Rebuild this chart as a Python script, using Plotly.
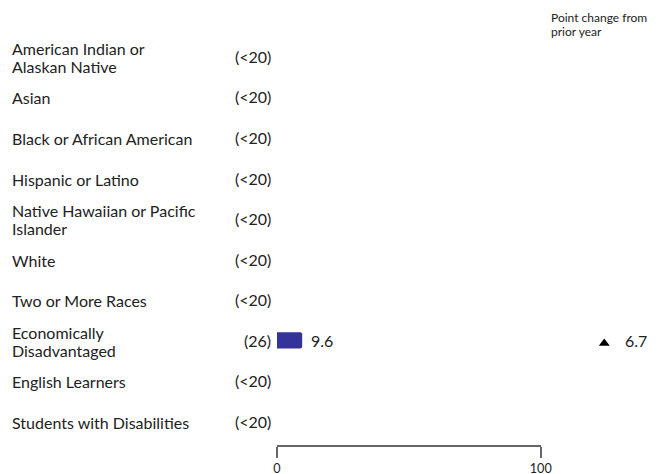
import plotly.graph_objects as go

groups = ["American Indian or<br>Alaskan Native", "Asian", "Black or African American",
          "Hispanic or Latino", "Native Hawaiian or Pacific<br>Islander", "White",
          "Two or More Races", "Economically<br>Disadvantaged", "English Learners",
          "Students with Disabilities"]
counts = ["(<20)", "(<20)", "(<20)", "(<20)", "(<20)", "(<20)", "(<20)", "(26)", "(<20)", "(<20)"]
values = [None, None, None, None, None, None, None, 9.6, None, None]
changes = [None, None, None, None, None, None, None, 6.7, None, None]
header_lines = ["Point change from", "prior year"]
tick_vals = [0, 100]
tick_text = ["0", "100"]

FONT = "Lato, 'Open Sans', sans-serif"
TXT = "#222222"
W, H = 662, 474
OFF = 8               # page body margin
X0, X100 = 279, 549   # page px of 0 and 100
ypos = list(range(len(groups)))

def fx(page_px):      # page px -> figure px (helper axis x2 spans figure px)
    return page_px - OFF

TOP, BOT = 36, 445    # page px of plot top / axis line
YR = [9.58, -0.5]
ROWPX = (BOT - TOP) / (YR[0] - YR[1])
DELTA = 3 / ROWPX     # shift change marker 3px down

fig = go.Figure()
fig.add_trace(go.Bar(
    x=[v if v is not None else 0 for v in values], y=ypos, orientation="h",
    marker=dict(color="#333399", line=dict(width=0)), width=0.4,
    hoverinfo="skip", showlegend=False, xaxis="x", yaxis="y"))

chg_x, chg_y = [], []
for i, c in enumerate(changes):
    if c is not None:
        chg_x.append(fx(614))
        chg_y.append(i)
fig.add_trace(go.Scatter(
    x=chg_x, y=chg_y, mode="markers",
    marker=dict(symbol="triangle-up", size=9.5, color="black", line=dict(width=0)),
    hoverinfo="skip", showlegend=False, xaxis="x2", yaxis="y2"))

def A(**kw):
    base = dict(showarrow=False, borderpad=0, borderwidth=0)
    base.update(kw)
    return base

ann = []
LH = 18.5
for i, g in enumerate(groups):
    lines = g.split("<br>")
    n = len(lines)
    for j, ln in enumerate(lines):
        ann.append(A(x=0.01, y=i, xref="x2", yref="y", text=ln,
                     xanchor="left", yanchor="middle", align="left",
                     yshift=-((j - (n - 1) / 2) * LH) - 1,
                     font=dict(family=FONT, size=16, color=TXT)))
    ann.append(A(x=fx(273), y=i, xref="x2", yref="y", text=counts[i],
                 xanchor="right", yanchor="middle", yshift=0,
                 font=dict(family=FONT, size=16, color=TXT)))
    if values[i] is not None:
        ann.append(A(x=values[i], y=i, xref="x", yref="y", text=f"{values[i]:.1f}",
                     xanchor="left", yanchor="middle", xshift=9, yshift=0,
                     font=dict(family=FONT, size=16, color=TXT)))
    if changes[i] is not None:
        ann.append(A(x=fx(635), y=i, xref="x2", yref="y", text=f"{changes[i]:.1f}",
                     xanchor="left", yanchor="middle", yshift=0,
                     font=dict(family=FONT, size=16, color=TXT)))
for j, page_y in enumerate([17, 31]):
    ann.append(A(x=fx(560), y=1, xref="x2", yref="paper", text=header_lines[j],
                 xanchor="left", yanchor="middle", align="left",
                 yshift=TOP - page_y,
                 font=dict(family=FONT, size=12, color=TXT)))

fig.update_layout(
    width=W, height=H,
    margin=dict(l=0, r=0, t=TOP - OFF, b=H - (BOT - OFF), pad=0),
    paper_bgcolor="white", plot_bgcolor="rgba(0,0,0,0)",
    barcornerradius=2,
    annotations=ann,
    xaxis=dict(domain=[fx(X0) / W, fx(X100) / W], range=[0, 100],
               tickvals=tick_vals, ticktext=tick_text, showgrid=False,
               zeroline=False, showline=True, linecolor="#666666", linewidth=2,
               ticks="outside", ticklen=11, tickwidth=2, tickcolor="#666666",
               ticklabelstandoff=0,
               tickfont=dict(family=FONT, size=12.6, color=TXT), fixedrange=True),
    xaxis2=dict(domain=[0, 1], range=[0, W], anchor="y",
                visible=False, fixedrange=True),
    yaxis=dict(range=YR, showticklabels=False, showgrid=False,
               zeroline=False, showline=False, fixedrange=True),
    yaxis2=dict(range=[YR[0] - DELTA, YR[1] - DELTA], overlaying="y", anchor="x2",
                visible=False, fixedrange=True),
)
fig.write_html("out.html", config={"displayModeBar": False})
